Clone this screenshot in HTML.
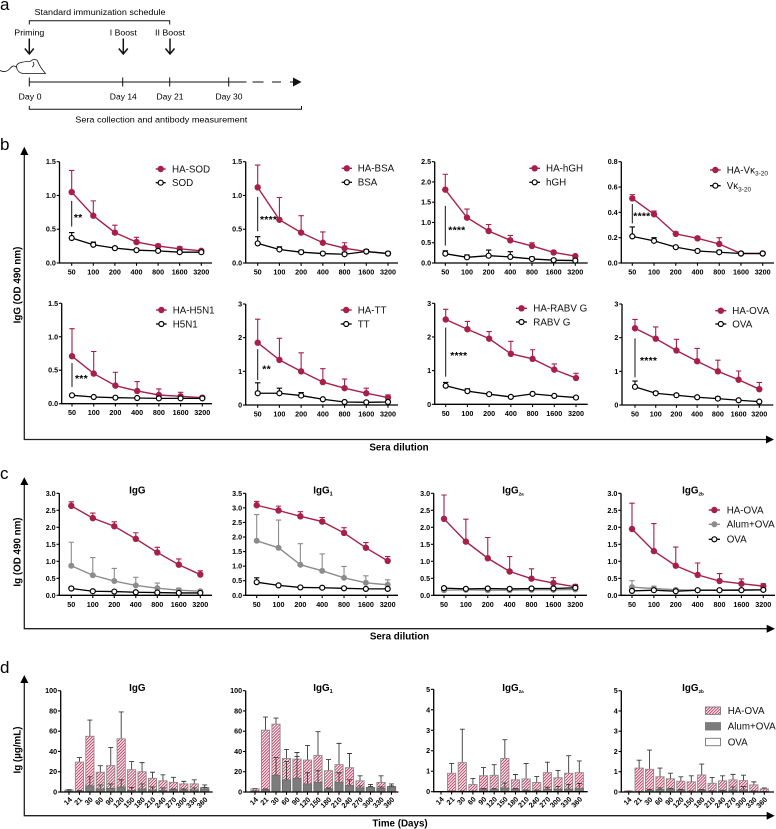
<!DOCTYPE html>
<html lang="en">
<head>
<meta charset="utf-8">
<title>Immunization schedule and antibody response charts</title>
<style>
html,body{margin:0;padding:0;background:#fff;width:776px;height:829px;overflow:hidden}
svg{display:block;filter:blur(0.3px)}
text{font-family:"Liberation Sans",sans-serif;fill:#000}
.t{font-size:7.2px;font-weight:700}
.leg{font-size:9.8px;fill:#111}
.ttl{font-size:9.8px;font-weight:700;text-anchor:middle}
.ax{font-size:9.8px;font-weight:700;text-anchor:middle}
.sch{font-size:8.6px;text-anchor:middle;fill:#000}
.pl{font-size:17px}
</style>
</head>
<body>
<svg id="fig" xmlns="http://www.w3.org/2000/svg" width="776" height="829" viewBox="0 0 776 829">
  <defs>
    <pattern id="hatch" patternUnits="userSpaceOnUse" width="2.1" height="2.1" patternTransform="rotate(-45)">
      <rect width="2.1" height="2.1" fill="#fff"/>
      <rect width="2.1" height="0.95" fill="#c8325a"/>
    </pattern>
  </defs>

  <text class="pl" x="0" y="10">a</text>
  <text class="pl" x="0" y="150">b</text>
  <text class="pl" x="0" y="479">c</text>
  <text class="pl" x="0" y="673">d</text>

  <g stroke="#111" fill="none">
    <text class="sch" stroke="none" x="100" y="15" textLength="131" lengthAdjust="spacingAndGlyphs">Standard immunization schedule</text>
    <path d="M29.3 24.5V20.7H169.7V24.5" stroke-width="1"/>
    <text class="sch" stroke="none" x="29.3" y="35.5" textLength="30" lengthAdjust="spacingAndGlyphs">Priming</text>
    <text class="sch" stroke="none" x="123.3" y="35.5" textLength="27" lengthAdjust="spacingAndGlyphs">I Boost</text>
    <text class="sch" stroke="none" x="170" y="35.5" textLength="30" lengthAdjust="spacingAndGlyphs">II Boost</text>
    <path d="M29.3 38.5V54M24.8 48.5L29.3 54L33.8 48.5" stroke-width="1.5"/>
    <path d="M123.3 38.5V54M118.8 48.5L123.3 54L127.8 48.5" stroke-width="1.5"/>
    <path d="M170 38.5V54M165.5 48.5L170 54L174.5 48.5" stroke-width="1.5"/>
    <path d="M0 70.5C4 72.5 7 72 10 68.5C12.5 65.5 14 65.5 16.5 67C16 63 22 61.5 30 61.5C33.5 58.5 37 59 38 62C39.5 66 42 69.5 45.5 73.5L23 73.5C19.5 73 17 70.5 16.5 67M33 62C34.5 64 34 66 32 67" stroke-width="0.8"/>
    <path d="M29.3 82H246.5" stroke-width="1.1"/>
    <path d="M252.5 82H263.5M272 82H281M290 82H294" stroke-width="1.1"/>
    <path d="M293 77.5L301.5 82L293 86.5Z" fill="#111" stroke="none"/>
    <path d="M29.3 77.5V86.5M122.7 77.5V86.5M169.7 77.5V86.5M228.7 77.5V86.5" stroke-width="1"/>
    <text class="sch" stroke="none" x="30" y="99.5" textLength="23" lengthAdjust="spacingAndGlyphs">Day 0</text>
    <text class="sch" stroke="none" x="123.3" y="99.5" textLength="27" lengthAdjust="spacingAndGlyphs">Day 14</text>
    <text class="sch" stroke="none" x="170" y="99.5" textLength="27" lengthAdjust="spacingAndGlyphs">Day 21</text>
    <text class="sch" stroke="none" x="229" y="99.5" textLength="27" lengthAdjust="spacingAndGlyphs">Day 30</text>
    <path d="M29.3 106V109.3H301.5V106" stroke-width="1"/>
    <text class="sch" stroke="none" x="161.3" y="122.5" textLength="172" lengthAdjust="spacingAndGlyphs">Sera collection and antibody measurement</text>
  </g>

  <g>
    <path d="M24.3 152V439.5H768" stroke="#222" stroke-width="1.3" fill="none"/>
    <path d="M20.3 155L24.3 146.7L28.3 155Z" fill="#000"/>
    <path d="M766 435.5L774 439.5L766 443.5Z" fill="#000"/>
    <text class="ax" transform="translate(20.5 285) rotate(-90)">IgG (OD 490 nm)</text>
    <text class="ax" x="399" y="450.6">Sera dilution</text>
  </g>
  <g>
    <path d="M24.3 482V628.7H768" stroke="#222" stroke-width="1.3" fill="none"/>
    <path d="M20.3 485L24.3 477.3L28.3 485Z" fill="#000"/>
    <path d="M766.7 624.7L775 628.7L766.7 632.7Z" fill="#000"/>
    <text class="ax" transform="translate(20.5 552) rotate(-90)">Ig (OD 490 nm)</text>
    <text class="ax" x="399.5" y="639.6">Sera dilution</text>
  </g>
  <g>
    <path d="M24.3 680V815.7H768" stroke="#222" stroke-width="1.3" fill="none"/>
    <path d="M20.3 683L24.3 675L28.3 683Z" fill="#000"/>
    <path d="M766.7 811.7L774.7 815.7L766.7 819.7Z" fill="#000"/>
    <text class="ax" transform="translate(20.5 750) rotate(-90)">Ig (µg/mL)</text>
    <text class="ax" x="400" y="826.5">Time (Days)</text>
  </g>
  <g id="plots"></g>
</svg>

<script>
// ---- shared categories ----
const dilutions = ['50','100','200','400','800','1600','3200'];
const days = ['14','21','30','60','90','120','150','180','210','240','270','300','330','360'];

// ---- y tick labels ----
const ticks15 = ['0.0','0.5','1.0','1.5'];
const ticks25 = ['0.0','0.5','1.0','1.5','2.0','2.5'];
const ticks08 = ['0.0','0.2','0.4','0.6','0.8'];
const ticks3 = ['0','1','2','3'];
const ticks30 = ['0.0','0.5','1.0','1.5','2.0','2.5','3.0'];
const ticks35 = ['0.0','0.5','1.0','1.5','2.0','2.5','3.0','3.5'];
const ticks100 = ['0','20','40','60','80','100'];
const ticks5 = ['0','1','2','3','4','5'];

// ---- panel b values ----
const sodHa = [1.05,0.70,0.45,0.31,0.25,0.21,0.18];
const sodHaErr = [1.37,0.92,0.56,0.38,0.28,0.24,0.20];
const sodCtl = [0.37,0.27,0.22,0.19,0.18,0.16,0.16];
const sodCtlErr = [0.45,0.31,0.24,0.21,0.20,0.18,0.18];
const bsaHa = [1.12,0.64,0.45,0.30,0.22,0.17,0.14];
const bsaHaErr = [1.45,0.97,0.70,0.46,0.30,0.20,0.16];
const bsaCtl = [0.29,0.20,0.16,0.14,0.13,0.17,0.14];
const bsaCtlErr = [0.39,0.24,0.19,0.16,0.16,0.20,0.16];
const hghHa = [1.81,1.12,0.79,0.56,0.42,0.26,0.17];
const hghHaErr = [2.19,1.33,0.95,0.68,0.50,0.30,0.20];
const hghCtl = [0.23,0.14,0.18,0.15,0.10,0.07,0.06];
const hghCtlErr = [0.30,0.20,0.32,0.28,0.15,0.11,0.10];
const vkHa = [0.51,0.385,0.23,0.195,0.15,0.075,0.075];
const vkHaErr = [0.54,0.41,0.245,0.21,0.20,0.085,0.085];
const vkCtl = [0.21,0.175,0.125,0.095,0.085,0.075,0.075];
const vkCtlErr = [0.285,0.20,0.135,0.105,0.10,0.085,0.085];
const h5n1Ha = [0.71,0.45,0.27,0.19,0.13,0.11,0.09];
const h5n1HaErr = [1.12,0.78,0.47,0.33,0.22,0.17,0.11];
const h5n1Ctl = [0.125,0.10,0.09,0.085,0.08,0.08,0.08];
const h5n1CtlErr = [0.14,0.11,0.10,0.095,0.09,0.09,0.09];
const ttHa = [1.85,1.34,1.00,0.68,0.50,0.35,0.22];
const ttHaErr = [2.55,1.98,1.55,1.08,0.77,0.50,0.30];
const ttCtl = [0.35,0.35,0.28,0.17,0.09,0.08,0.09];
const ttCtlErr = [0.66,0.50,0.37,0.20,0.11,0.11,0.12];
const rabvHa = [2.52,2.23,1.95,1.50,1.35,1.03,0.78];
const rabvHaErr = [2.82,2.46,2.16,1.87,1.62,1.20,0.92];
const rabvCtl = [0.55,0.39,0.30,0.22,0.31,0.25,0.20];
const rabvCtlErr = [0.65,0.46,0.34,0.25,0.33,0.28,0.23];
const ovaHa = [2.28,1.97,1.62,1.30,1.00,0.75,0.47];
const ovaHaErr = [2.54,2.32,1.95,1.68,1.33,1.01,0.67];
const ovaCtl = [0.54,0.35,0.29,0.23,0.19,0.14,0.10];
const ovaCtlErr = [0.71,0.40,0.33,0.27,0.24,0.17,0.13];

// ---- panel c values ----
const cIgGHa = [2.63,2.27,2.03,1.66,1.26,0.90,0.61];
const cIgGHaErr = [2.75,2.42,2.16,1.84,1.41,1.07,0.72];
const cIgGAlum = [0.87,0.59,0.42,0.29,0.21,0.15,0.12];
const cIgGAlumErr = [1.56,1.11,0.79,0.53,0.36,0.21,0.15];
const cIgGOva = [0.20,0.12,0.11,0.09,0.08,0.07,0.07];
const cIgGOvaErr = [0.24,0.14,0.12,0.10,0.09,0.08,0.08];
const cIgG1Ha = [3.09,2.91,2.71,2.53,2.14,1.63,1.18];
const cIgG1HaErr = [3.22,3.06,2.87,2.67,2.32,1.81,1.33];
const cIgG1Alum = [1.87,1.63,1.05,0.84,0.60,0.43,0.36];
const cIgG1AlumErr = [2.77,2.58,1.77,1.42,0.99,0.67,0.53];
const cIgG1Ova = [0.45,0.34,0.27,0.26,0.24,0.22,0.22];
const cIgG1OvaErr = [0.60,0.38,0.29,0.28,0.26,0.24,0.24];
const cIgG2aHa = [2.25,1.58,1.09,0.70,0.49,0.36,0.25];
const cIgG2aHaErr = [2.95,2.24,1.70,1.14,0.78,0.52,0.32];
const cIgG2aAlum = [0.15,0.16,0.15,0.15,0.16,0.16,0.17];
const cIgG2aAlumErr = [0.18,0.19,0.18,0.18,0.19,0.19,0.20];
const cIgG2aOva = [0.21,0.19,0.20,0.19,0.20,0.20,0.22];
const cIgG2aOvaErr = [0.24,0.22,0.23,0.22,0.23,0.23,0.25];
const cIgG2bHa = [1.95,1.30,0.87,0.60,0.42,0.34,0.27];
const cIgG2bHaErr = [2.71,2.11,1.42,0.95,0.64,0.48,0.34];
const cIgG2bAlum = [0.24,0.20,0.16,0.15,0.15,0.16,0.16];
const cIgG2bAlumErr = [0.43,0.27,0.20,0.18,0.17,0.20,0.20];
const cIgG2bOva = [0.13,0.15,0.12,0.15,0.15,0.15,0.16];
const cIgG2bOvaErr = [0.16,0.17,0.14,0.17,0.17,0.17,0.18];

// ---- panel d values ----
const dIgGHa = [2,29.5,55,19.5,26,52.5,22,20,13.5,11,9.5,8,8,4.5];
const dIgGHaErr = [2.5,34,71,26,44,79,30,29,19.5,17,14.5,10.5,12,7];
const dIgGAlum = [0.5,1,6,3,3.5,5,1.5,3,2,1.5,2,2,2,3];
const dIgGAlumErr = [1,1.5,15,7,8,12,4.5,8,5,4,3,3,4,4.5];
const dIgGOva = [0.3,0.3,0.4,0.3,0.3,0.4,0.3,0.3,0.3,0.3,0.3,0.3,0.3,0.3];
const dIgG1Ha = [3,61,67,33,32.5,31.5,36,21,27,24,11,4.5,9.5,5.5];
const dIgG1HaErr = [3.5,74,73,42,39,46,59.5,32,48,38,16,7.5,16,8];
const dIgG1Alum = [0.5,2,16.5,12,13.5,8,9.5,3,9.5,6.5,4,4.5,3.5,5];
const dIgG1AlumErr = [1,3,34,30,35,19,21,4,19,12,6,5.5,5,6];
const dIgG1Ova = [0.3,0.3,0.4,0.4,0.4,0.3,0.3,0.3,0.3,0.3,0.3,0.3,0.3,0.3];
const dIgG2aHa = [0,0.9,1.42,0.35,0.78,0.8,1.62,0.58,0.62,0.45,0.93,0.68,0.9,0.93];
const dIgG2aHaErr = [0,1.38,3.05,0.65,1.18,1.32,2.54,0.84,1.38,0.74,1.44,1.04,1.76,1.5];
const dIgG2aAlum = [0,0.02,0.02,0.02,0.1,0.1,0.18,0.1,0.05,0.05,0.12,0.12,0.12,0.15];
const dIgG2aAlumErr = [0,0.03,0.03,0.03,0.15,0.15,0.42,0.15,0.08,0.08,0.22,0.25,0.35,0.4];
const dIgG2aOva = [0,0.01,0.01,0.01,0.02,0.02,0.02,0.02,0.02,0.02,0.02,0.02,0.02,0.02];
const dIgG2bHa = [0.05,1.18,1.12,0.75,0.65,0.53,0.5,0.84,0.43,0.55,0.6,0.56,0.35,0.15];
const dIgG2bHaErr = [0.06,1.57,2.07,1.18,0.93,0.75,0.8,1.38,0.72,0.8,0.87,0.83,0.5,0.2];
const dIgG2bAlum = [0.01,0.02,0.08,0.12,0.12,0.08,0.03,0.08,0.04,0.05,0.1,0.1,0.03,0.02];
const dIgG2bAlumErr = [0.02,0.03,0.13,0.2,0.18,0.13,0.05,0.12,0.06,0.08,0.25,0.27,0.05,0.03];
const dIgG2bOva = [0.01,0.01,0.02,0.02,0.02,0.02,0.01,0.02,0.01,0.01,0.02,0.02,0.01,0.01];

// ---- significance annotations (y-axis units) ----
const sigSod = {hi:0.92, lo:0.54, stars:'**', at:0.70};
const sigBsa = {hi:0.98, lo:0.47, stars:'****', at:0.67};
const sigHgh = {hi:1.41, lo:0.43, stars:'****', at:0.855};
const sigVk = {hi:0.466, lo:0.313, stars:'****', at:0.384};
const sigH5n1 = {hi:0.608, lo:0.249, stars:'***', at:0.40};
const sigTt = {hi:1.66, lo:0.74, stars:'**', at:1.12};
const sigRabv = {hi:2.28, lo:0.82, stars:'****', at:1.50};
const sigOva = {hi:1.98, lo:0.82, stars:'****', at:1.37};

const NS = 'http://www.w3.org/2000/svg';
const RED = '#a6204a';
const GREY = '#8c8c8c';
const plots = document.getElementById('plots');

function mk(tag, attrs, parent, text) {
  const n = document.createElementNS(NS, tag);
  for (const k in attrs) n.setAttribute(k, attrs[k]);
  if (text !== undefined) n.textContent = text;
  parent.appendChild(n);
  return n;
}

function drawAxes(g, c, labels, rotate) {
  const sy = v => c.y0 - v / c.ymax * (c.y0 - c.top);
  const step = (c.last - c.first) / (labels.length - 1);
  const axis = mk('path', {d:`M${c.ax} ${c.top}V${c.y0}H${c.end}`, fill:'none', stroke:'#000', 'stroke-width':1.3}, g);
  
  
  c.ticks.forEach(t => {
    const y = sy(parseFloat(t));
    const tick = mk('line', {x1:c.ax - 2.8, x2:c.ax, y1:y, y2:y, stroke:'#000', 'stroke-width':1.1}, g);
    
    
    const lab = mk('text', {class:'t', x:c.ax - 3.6, y:y + 2.5, 'text-anchor':'end'}, g, t);
    
    
  });
  labels.forEach((t, i) => {
    const x = c.first + i * step;
    const tick = mk('line', {x1:x, x2:x, y1:c.y0, y2:c.y0 + 2.8, stroke:'#000', 'stroke-width':1.1}, g);
    
    
    const attrs = rotate
      ? {class:'t', x:x + 3.4, y:c.y0 + 8, 'text-anchor':'end', transform:`rotate(-45 ${x + 3.4} ${c.y0 + 8})`}
      : {class:'t', x:x, y:c.y0 + 11.5, 'text-anchor':'middle'};
    const lab = mk('text', attrs, g, t);
    
    
  });
  return {sy, sx: i => c.first + i * step};
}

function drawTitle(g, c) {
  if (!c.title) return;
  const t = mk('text', {class:'ttl', x:c.title.x, y:c.title.y}, g, 'IgG');
  
  
  if (c.title.sub) {
    const s = mk('tspan', {'font-size':c.title.sub.length > 1 ? 4.6 : 5.5, dy:2}, t, c.title.sub);
    
    
  }
}

function styleOf(kind) {
  if (kind === 'ha') return {color:RED, fill:RED, r:3.2, sw:1.4};
  if (kind === 'alum') return {color:GREY, fill:GREY, r:3, sw:1.4};
  return {color:'#000', fill:'#fff', r:2.5, sw:1.3};
}

function drawLineChart(c) {
  const g = mk('g', {}, plots);
  
  
  const {sx, sy} = drawAxes(g, c, dilutions, false);
  drawTitle(g, c);
  c.series.forEach(s => {
    const st = styleOf(s.kind);
    s.values.forEach((v, i) => {
      const x = sx(i), yt = sy(s.err[i]);
      const eb = mk('path', {d:`M${x} ${sy(v)}V${yt}M${x - 2.7} ${yt}H${x + 2.7}`, fill:'none', stroke:st.color, 'stroke-width':1.1}, g);
      
      
    });
    const ln = mk('path', {d:s.values.map((v, i) => (i ? 'L' : 'M') + sx(i) + ' ' + sy(v)).join(''), fill:'none', stroke:st.color, 'stroke-width':st.sw}, g);
    
    
    s.values.forEach((v, i) => {
      const p = mk('circle', {cx:sx(i), cy:sy(v), r:st.r, fill:st.fill, stroke:st.color, 'stroke-width':s.kind === 'ha' || s.kind === 'alum' ? 0 : 1.2}, g);
      
      
    });
  });
  if (c.sig) {
    const sl = mk('line', {x1:sx(0), x2:sx(0), y1:sy(c.sig.hi), y2:sy(c.sig.lo), stroke:'#111', 'stroke-width':1}, g);
    
    
    const st = mk('text', {x:sx(0) + c.starDx, y:sy(c.sig.at) + 5.2, 'font-size':10.5, 'font-weight':700, 'letter-spacing':0.2}, g, c.sig.stars);
    
    
  }
  c.legend.items.forEach((it, i) => {
    const st = styleOf(it.kind);
    const y = c.legend.ys[i];
    const l = mk('line', {x1:c.legend.x1, x2:c.legend.x2, y1:y, y2:y, stroke:st.color, 'stroke-width':st.sw}, g);
    
    
    const m = mk('circle', {cx:(c.legend.x1 + c.legend.x2) / 2, cy:y, r:st.r, fill:st.fill, stroke:st.color, 'stroke-width':it.kind === 'ctl' ? 1.2 : 0}, g);
    
    
    const t = mk('text', {class:'leg', x:c.legend.tx, y:y + 3.4}, g, it.label);
    
    
    if (it.sub) {
      const s = mk('tspan', {'font-size':6.5, dy:2.2}, t, it.sub);
      
      
    }
  });
}

function drawBarChart(c) {
  const g = mk('g', {}, plots);
  
  
  const w = 8.2;
  const scale = (v) => c.y0 - v / c.ymax * (c.y0 - c.top);
  const step = (c.last - c.first) / (days.length - 1);
  const sx = i => c.first + i * step;
  const layers = [
    {kind:'ha', values:c.ha, err:c.haErr, fill:'url(#hatch)', stroke:'#8a8a8a'},
    {kind:'alum', values:c.alum, err:c.alumErr, fill:'#7c7c7c', stroke:'#6a6a6a'},
    {kind:'ova', values:c.ova, err:null, fill:'#fff', stroke:'#777'}
  ];
  layers.forEach(L => {
    L.values.forEach((v, i) => {
      const x = sx(i), yv = scale(v);
      if (L.err) {
        const yt = scale(L.err[i]);
        const eb = mk('path', {d:`M${x} ${yv}V${yt}M${x - 2.5} ${yt}H${x + 2.5}`, fill:'none', stroke:'#3a3a3a', 'stroke-width':0.9}, g);
        
        
      }
      const b = mk('rect', {x:x - w / 2, y:yv, width:w, height:Math.max(0, c.y0 - yv), fill:L.fill, stroke:L.stroke, 'stroke-width':0.9}, g);
      
      
    });
  });
  drawAxes(g, c, days, true);
  drawTitle(g, c);
}

const L2 = (ha, ctl, haSub, ctlSub) => [{kind:'ha', label:ha, sub:haSub}, {kind:'ctl', label:ctl, sub:ctlSub}];

drawLineChart({name:'chart-ha-sod', ax:59.5, y0:263, top:161.7, first:71.7, last:201.3, end:212, ymax:1.5, ticks:ticks15, starDx:2.2,
  series:[{kind:'ha', values:sodHa, err:sodHaErr}, {kind:'ctl', values:sodCtl, err:sodCtlErr}], sig:sigSod,
  legend:{x1:155.7, x2:165.7, tx:172, ys:[169, 182.7], items:L2('HA-SOD','SOD')}});
drawLineChart({name:'chart-ha-bsa', ax:245.7, y0:263, top:161.7, first:257.7, last:388, end:398, ymax:1.5, ticks:ticks15, starDx:2.3,
  series:[{kind:'ha', values:bsaHa, err:bsaHaErr}, {kind:'ctl', values:bsaCtl, err:bsaCtlErr}], sig:sigBsa,
  legend:{x1:341.7, x2:352, tx:357.7, ys:[168.3, 182.3], items:L2('HA-BSA','BSA')}});
drawLineChart({name:'chart-ha-hgh', ax:434.7, y0:263, top:161.7, first:445.3, last:575.3, end:587.7, ymax:2.5, ticks:ticks25, starDx:3,
  series:[{kind:'ha', values:hghHa, err:hghHaErr}, {kind:'ctl', values:hghCtl, err:hghCtlErr}], sig:sigHgh,
  legend:{x1:529.3, x2:540, tx:546, ys:[168.3, 182.3], items:L2('HA-hGH','hGH')}});
drawLineChart({name:'chart-ha-vk', ax:621.3, y0:263, top:161.7, first:632.3, last:762.7, end:774, ymax:0.8, ticks:ticks08, starDx:1,
  series:[{kind:'ha', values:vkHa, err:vkHaErr}, {kind:'ctl', values:vkCtl, err:vkCtlErr}], sig:sigVk,
  legend:{x1:710, x2:720.7, tx:726.7, ys:[170, 185.7], items:L2('HA-Vκ','Vκ','3-20','3-20')}});

drawLineChart({name:'chart-ha-h5n1', ax:61.7, y0:403.7, top:303.3, first:72, last:202.3, end:212, ymax:1.5, ticks:ticks15, starDx:3,
  series:[{kind:'ha', values:h5n1Ha, err:h5n1HaErr}, {kind:'ctl', values:h5n1Ctl, err:h5n1CtlErr}], sig:sigH5n1,
  legend:{x1:156, x2:166.7, tx:172.7, ys:[310, 324], items:L2('HA-H5N1','H5N1')}});
drawLineChart({name:'chart-ha-tt', ax:245.7, y0:405, top:304, first:257.7, last:388, end:398, ymax:3, ticks:ticks3, starDx:4.6,
  series:[{kind:'ha', values:ttHa, err:ttHaErr}, {kind:'ctl', values:ttCtl, err:ttCtlErr}], sig:sigTt,
  legend:{x1:340.7, x2:351.7, tx:357.7, ys:[310, 324], items:L2('HA-TT','TT')}});
drawLineChart({name:'chart-ha-rabv', ax:434.7, y0:404.3, top:303.3, first:445.7, last:576, end:587.7, ymax:3, ticks:ticks3, starDx:4.5,
  series:[{kind:'ha', values:rabvHa, err:rabvHaErr}, {kind:'ctl', values:rabvCtl, err:rabvCtlErr}], sig:sigRabv,
  legend:{x1:516, x2:527, tx:533.3, ys:[308.3, 322], items:L2('HA-RABV G','RABV G')}});
drawLineChart({name:'chart-ha-ova', ax:622, y0:405, top:304, first:635, last:759.3, end:773.3, ymax:3, ticks:ticks3, starDx:5,
  series:[{kind:'ha', values:ovaHa, err:ovaHaErr}, {kind:'ctl', values:ovaCtl, err:ovaCtlErr}], sig:sigOva,
  legend:{x1:715.3, x2:726.3, tx:732.3, ys:[310.7, 324], items:L2('HA-OVA','OVA')}});

const legC = {x1:708.7, x2:720, tx:726.7, ys:[510, 524.3, 539.3], items:[{kind:'ha', label:'HA-OVA'}, {kind:'alum', label:'Alum+OVA'}, {kind:'ctl', label:'OVA'}]};
const noLeg = {x1:0, x2:0, tx:0, ys:[], items:[]};

drawLineChart({name:'chart-c-igg', ax:59.3, y0:595.3, top:493.3, first:71.3, last:200.3, end:212, ymax:3, ticks:ticks30, title:{x:137.3, y:493.5},
  series:[{kind:'ha', values:cIgGHa, err:cIgGHaErr}, {kind:'alum', values:cIgGAlum, err:cIgGAlumErr}, {kind:'ctl', values:cIgGOva, err:cIgGOvaErr}], legend:noLeg});
drawLineChart({name:'chart-c-igg1', ax:245.7, y0:595.3, top:493.3, first:256.7, last:387.7, end:398, ymax:3.5, ticks:ticks35, title:{x:323, y:493.5, sub:'1'},
  series:[{kind:'ha', values:cIgG1Ha, err:cIgG1HaErr}, {kind:'alum', values:cIgG1Alum, err:cIgG1AlumErr}, {kind:'ctl', values:cIgG1Ova, err:cIgG1OvaErr}], legend:noLeg});
drawLineChart({name:'chart-c-igg2a', ax:433.7, y0:595.3, top:493.3, first:444, last:575.3, end:587, ymax:3, ticks:ticks30, title:{x:513, y:493.5, sub:'2a'},
  series:[{kind:'ha', values:cIgG2aHa, err:cIgG2aHaErr}, {kind:'alum', values:cIgG2aAlum, err:cIgG2aAlumErr}, {kind:'ctl', values:cIgG2aOva, err:cIgG2aOvaErr}], legend:noLeg});
drawLineChart({name:'chart-c-igg2b', ax:621, y0:595.3, top:493.3, first:632, last:763.3, end:775, ymax:3, ticks:ticks30, title:{x:693, y:493.5, sub:'2b'},
  series:[{kind:'ha', values:cIgG2bHa, err:cIgG2bHaErr}, {kind:'alum', values:cIgG2bAlum, err:cIgG2bAlumErr}, {kind:'ctl', values:cIgG2bOva, err:cIgG2bOvaErr}], legend:legC});

drawBarChart({name:'chart-d-igg', ax:60.7, y0:792, top:690.7, first:69, last:204.7, end:212.7, ymax:100, ticks:ticks100, title:{x:137.3, y:691},
  ha:dIgGHa, haErr:dIgGHaErr, alum:dIgGAlum, alumErr:dIgGAlumErr, ova:dIgGOva});
drawBarChart({name:'chart-d-igg1', ax:245.7, y0:792, top:690.7, first:255, last:391.5, end:398.5, ymax:100, ticks:ticks100, title:{x:323, y:691, sub:'1'},
  ha:dIgG1Ha, haErr:dIgG1HaErr, alum:dIgG1Alum, alumErr:dIgG1AlumErr, ova:dIgG1Ova});
drawBarChart({name:'chart-d-igg2a', ax:433.7, y0:791.7, top:689.3, first:441, last:579.3, end:587.7, ymax:5, ticks:ticks5, title:{x:513, y:691, sub:'2a'},
  ha:dIgG2aHa, haErr:dIgG2aHaErr, alum:dIgG2aAlum, alumErr:dIgG2aAlumErr, ova:dIgG2aOva});
drawBarChart({name:'chart-d-igg2b', ax:621.3, y0:792, top:690.7, first:628.7, last:764.3, end:774, ymax:5, ticks:ticks5, title:{x:693, y:691, sub:'2b'},
  ha:dIgG2bHa, haErr:dIgG2bHaErr, alum:dIgG2bAlum, alumErr:dIgG2bAlumErr, ova:dIgG2bOva});

// panel d legend
const legendD = mk('g', {}, plots);


const legendDItems = ['HA-OVA','Alum+OVA','OVA'];
const legendDFills = ['url(#hatch)','#7c7c7c','#fff'];
const legendDRows = [710.7, 726.3, 742];
legendDItems.forEach((label, i) => {
  const sw = mk('rect', {x:705.5, y:legendDRows[i] - 3.7, width:15, height:7.4, fill:legendDFills[i], stroke:'#777', 'stroke-width':0.9}, legendD);
  
  
  const t = mk('text', {class:'leg', x:727.7, y:legendDRows[i] + 3.4}, legendD, label);
  
  
});
</script>
</body>
</html>
